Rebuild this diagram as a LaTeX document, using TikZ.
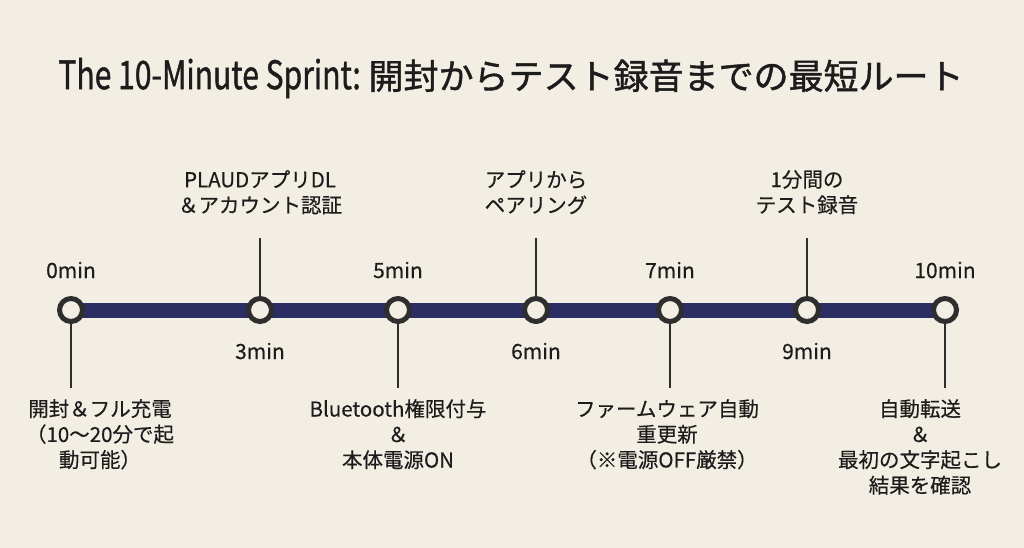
\documentclass[tikz,border=0pt]{standalone}
\usepackage{fontspec}
\setmainfont{Noto Sans CJK JP}[FakeBold=0.35]
\newfontfamily\titlefont{Noto Sans CJK JP}[FakeBold=1.2]
\usetikzlibrary{backgrounds}
\definecolor{bgcol}{HTML}{F3EEE4}
\definecolor{navy}{HTML}{2B2D63}
\definecolor{ringcol}{HTML}{2E2E2E}
\definecolor{txt}{HTML}{1C1C1C}
\tikzset{
  ring/.style={circle,draw=ringcol,line width=5pt,fill=bgcol,minimum size=23pt,inner sep=0pt},
  tick/.style={draw=ringcol,line width=2.5pt},
  timelbl/.style={text=txt,font=\fontsize{21}{26}\selectfont,inner sep=0pt},
  desc/.style={text=txt,font=\fontsize{20.5}{25.5}\selectfont,align=center,inner sep=0pt},
}
\begin{document}
\begin{tikzpicture}[x=1pt,y=-1pt]
\useasboundingbox (0,0) rectangle (1024,548);
\begin{scope}[on background layer]
\fill[bgcol] (0,0) rectangle (1024,548);
\end{scope}
\node[text=txt,font=\titlefont\fontsize{35}{40}\selectfont,inner sep=0pt] (title) at (511,78) {\scalebox{0.86}[1.12]{The 10-Minute Sprint:} 開封からテスト録音までの最短ルート};
% rings
\node[ring] (c0) at (71,310) {};
\node[ring] (c3) at (260,310) {};
\node[ring] (c5) at (398,310) {};
\node[ring] (c6) at (536,310) {};
\node[ring] (c7) at (670,310) {};
\node[ring] (c9) at (807,310) {};
\node[ring] (c10) at (945,310) {};
\begin{scope}[on background layer]
\draw[navy,line width=15pt] (c0.center) -- (c10.center);
\end{scope}
% time labels
\node[timelbl] (l0) at (71,270) {0min};
\node[timelbl] (l5) at (398,270) {5min};
\node[timelbl] (l7) at (670,270) {7min};
\node[timelbl] (l10) at (945,270) {10min};
\node[timelbl] (l3) at (260,351) {3min};
\node[timelbl] (l6) at (536,351) {6min};
\node[timelbl] (l9) at (807,351) {9min};
% ticks
\coordinate (t3) at (260,238);
\coordinate (t6) at (536,238);
\coordinate (t9) at (807,238);
\coordinate (b0) at (71,388);
\coordinate (b5) at (398,388);
\coordinate (b7) at (670,388);
\coordinate (b10) at (945,388);
\draw[tick] (t3) -- (c3.north);
\draw[tick] (t6) -- (c6.north);
\draw[tick] (t9) -- (c9.north);
\draw[tick] (c0.south) -- (b0);
\draw[tick] (c5.south) -- (b5);
\draw[tick] (c7.south) -- (b7);
\draw[tick] (c10.south) -- (b10);
% descriptions
\node[desc,anchor=north] (d3) at (260,170) {PLAUDアプリDL\\＆アカウント認証};
\node[desc,anchor=north] (d6) at (536,170) {アプリから\\ペアリング};
\node[desc,anchor=north] (d9) at (807,170) {1分間の\\テスト録音};
\node[desc,anchor=north] (d0) at (100,399) {開封＆フル充電\\（10〜20分で起\\動可能）};
\node[desc,anchor=north] (d5) at (398,399) {Bluetooth権限付与\\＆\\本体電源ON};
\node[desc,anchor=north] (d7) at (667,399) {ファームウェア自動\\重更新\\（※電源OFF厳禁）};
\node[desc,anchor=north] (d10) at (920,399) {自動転送\\＆\\最初の文字起こし\\結果を確認};
\end{tikzpicture}
\end{document}
